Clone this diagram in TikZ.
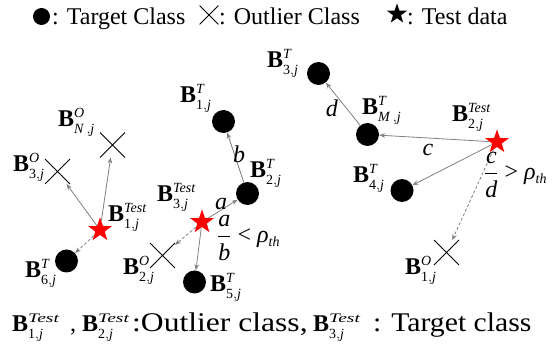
\documentclass[tikz,border=0pt]{standalone}
\usepackage{fontspec}
\setmainfont{Liberation Serif}
\usepackage{amsmath}
\usepackage{graphicx}
\usetikzlibrary{shapes.geometric,shapes.misc,arrows.meta}
\DeclareMathSizes{24}{24}{14}{10}
\newcommand\Bl[2]{\textbf{B}$^{\textit{#1}}_{\text{#2},\textit{j}}$}
\newcommand\Bb[1]{\textbf{B}$^{\scalebox{1.5}[1]{\fontsize{13}{13}\selectfont\textit{Test}}}_{\text{#1},\textit{j}}$}
\tikzset{
  dot/.style={circle,fill=black,minimum size=23pt,inner sep=0pt},
  xmark/.style={cross out,draw=black,line width=0.9pt,minimum size=24pt,inner sep=0pt},
  tstar/.style={star,star points=5,star point ratio=2.5,fill=red,minimum size=25pt,inner sep=0pt},
  lbl/.style={anchor=base west,inner sep=0pt,font=\fontsize{24}{28}\selectfont},
  big/.style={anchor=base west,inner sep=0pt,font=\fontsize{27}{32}\selectfont},
  txt/.style={inner sep=0pt,font=\fontsize{24}{28}\selectfont},
  arr/.style={draw=gray,line width=0.8pt,-{Stealth[length=6pt,width=4.5pt]}},
  darr/.style={arr,dash pattern=on 3pt off 2pt},
}
\begin{document}
\begin{tikzpicture}[x=1pt,y=-1pt]
\useasboundingbox (0,0) rectangle (552,358);
% legend
\node[dot,minimum size=17pt] (lgc) at (41.5,16.5) {};
\node[lbl] (lgt1) at (52,25) {: Target Class};
\node[cross out,draw=black,line width=0.8pt,minimum size=18pt,inner sep=0pt] (lgx) at (209,15) {};
\node[lbl] (lgt2) at (219,25) {: Outlier Class};
\node[star,star points=5,star point ratio=2.5,fill=black,minimum size=21pt,inner sep=0pt] (lgs) at (397,14) {};
\node[lbl] (lgt3) at (407,25) {: Test data};
% points
\node[tstar] (t1) at (100,230) {};
\node[tstar] (t3) at (202,222) {};
\node[tstar] (t2) at (497,142) {};
\node[dot] (c1) at (223.5,121.5) {};
\node[dot] (c2) at (247.5,193.5) {};
\node[dot] (c3) at (318.5,73.5) {};
\node[dot] (c4) at (402,190.5) {};
\node[dot] (c5) at (194.5,282) {};
\node[dot] (c6) at (66.5,261) {};
\node[dot] (cM) at (367.5,134.5) {};
\node[xmark] (o1) at (446.5,252.5) {};
\node[xmark] (o2) at (162.5,255.5) {};
\node[xmark] (o3) at (57.5,171.5) {};
\node[xmark] (oN) at (112.5,145) {};
% arrows
\draw[arr] (t1) -- (oN);
\draw[arr] (t1) -- (o3);
\draw[darr] (t1) -- (c6);
\draw[arr] (t3) -- (c2);
\draw[arr] (c2) -- (c1);
\draw[arr] (t3) -- (c5);
\draw[darr] (t3) -- (o2);
\draw[arr] (t2) -- (cM);
\draw[arr] (cM) -- (c3);
\draw[arr] (t2) -- (c4);
\draw[darr] (t2) -- (o1);
% labels
\node[lbl] (lN) at (58,127) {\Bl{O}{\textit{N}\,}};
\node[lbl] (l3o) at (13,172) {\Bl{O}{3}};
\node[lbl] (lt1) at (108,222) {\Bl{Test}{1}};
\node[lbl] (l6) at (25,278) {\Bl{T}{6}};
\node[lbl] (l2o) at (123,275) {\Bl{O}{2}};
\node[lbl] (l1) at (180,103) {\Bl{T}{1}};
\node[lbl] (l2) at (250,178) {\Bl{T}{2}};
\node[lbl] (lt3) at (157,202) {\Bl{Test}{3}};
\node[lbl] (l5) at (210,292) {\Bl{T}{5}};
\node[lbl] (lM) at (362,115) {\Bl{T}{\textit{M}\,}};
\node[lbl] (lt2) at (452,122) {\Bl{Test}{2}};
\node[lbl] (l4) at (353,183) {\Bl{T}{4}};
\node[lbl] (l1o) at (405,275) {\Bl{O}{1}};
\node[lbl] (l3) at (267,68) {\Bl{T}{3}};
% distance letters
\node[txt] (la) at (221,204) {\textit{a}};
\node[txt] (lb) at (239,154) {\textit{b}};
\node[txt] (lc) at (428,150) {\textit{c}};
\node[txt] (ld) at (332,108) {\textit{d}};
\node[txt,anchor=base west] (fab) at (217,243) {$\dfrac{\textit{a}}{\textit{b}}$ < \textit{ρ}$_{\textit{th}}$};
\node[txt,anchor=base west] (fcd) at (484,180) {$\dfrac{\textit{c}}{\textit{d}}$ > \textit{ρ}$_{\textit{th}}$};
% bottom line
\node[lbl] (bb1) at (12,332) {\Bb{1}};
\node[lbl] (bcm) at (70,332) {,};
\node[lbl] (bb2) at (82,332) {\Bb{2}};
\node[big] (bt1) at (132,332) {\scalebox{1.17}[1]{:Outlier class,}};
\node[lbl] (bb3) at (313,332) {\Bb{3}};
\node[big] (bt2) at (373,332) {\scalebox{1.1}[1]{: Target class}};
\end{tikzpicture}
\end{document}
